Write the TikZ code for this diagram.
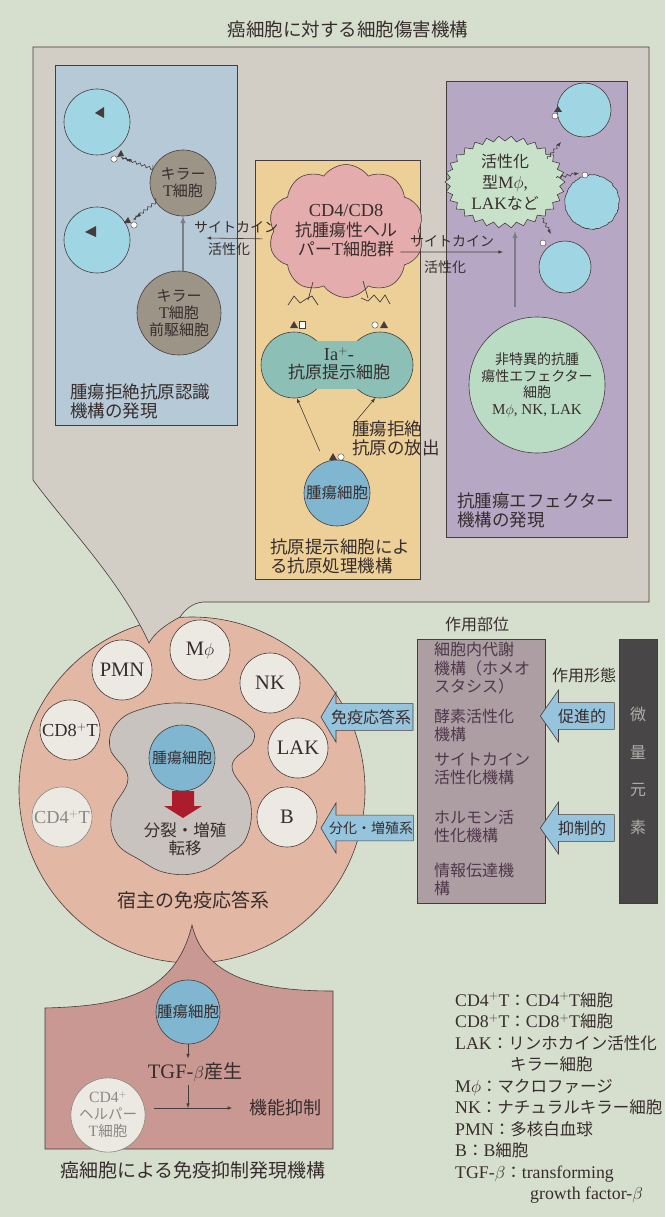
\documentclass[tikz,border=0pt]{standalone}
\usepackage{fontspec}
\setmainfont{Liberation Serif}[Scale=1.08]
\newfontfamily\jpfont{Noto Sans CJK JP}
\usetikzlibrary{shapes.symbols,shapes.arrows,decorations.pathmorphing}

% kana and kanji pick the Japanese face by themselves
\XeTeXinterchartokenstate=1
\newXeTeXintercharclass\jpclass
\count255="3000
\loop
  \XeTeXcharclass\count255=\jpclass
  \ifnum\count255<"9FFF \advance\count255 by 1
\repeat
\count255="FF00
\loop
  \XeTeXcharclass\count255=\jpclass
  \ifnum\count255<"FFEF \advance\count255 by 1
\repeat
\XeTeXinterchartoks 0 \jpclass = {\jpfont}
\XeTeXinterchartoks 4095 \jpclass = {\jpfont}
\XeTeXinterchartoks \jpclass 0 = {\rmfamily}
\XeTeXinterchartoks \jpclass 4095 = {\rmfamily}

\newcommand\fsz[2]{\fontsize{#1}{#2}\selectfont}

\definecolor{bgc}{RGB}{214,222,206}
\definecolor{framec}{RGB}{210,205,197}
\definecolor{bluep}{RGB}{182,201,214}
\definecolor{yellowp}{RGB}{237,208,152}
\definecolor{purplep}{RGB}{182,168,197}
\definecolor{targetc}{RGB}{160,214,228}
\definecolor{killc}{RGB}{156,148,134}
\definecolor{helpc}{RGB}{228,172,172}
\definecolor{apcc}{RGB}{140,191,182}
\definecolor{tumorc}{RGB}{128,182,208}
\definecolor{actc}{RGB}{200,226,202}
\definecolor{effc}{RGB}{186,219,196}
\definecolor{hostc}{RGB}{226,183,163}
\definecolor{immc}{RGB}{236,233,226}
\definecolor{innerc}{RGB}{200,195,190}
\definecolor{redc}{RGB}{172,28,44}
\definecolor{arrowc}{RGB}{150,196,221}
\definecolor{sitec}{RGB}{172,158,163}
\definecolor{darkc}{RGB}{72,70,70}
\definecolor{supc}{RGB}{201,152,146}
\definecolor{inkc}{RGB}{55,45,45}
\definecolor{linec}{RGB}{70,60,60}
\definecolor{palec}{RGB}{125,125,135}
\definecolor{fadec}{RGB}{140,135,130}
\definecolor{sitetext}{RGB}{80,55,75}
\definecolor{elemtext}{RGB}{175,175,168}

\tikzset{
  panel/.style={draw=linec, line width=0.6pt},
  cell/.style={circle, draw=linec, line width=0.6pt, inner sep=0pt, align=center, text=inkc},
  imm/.style={cell, fill=immc, minimum size=60pt, font=\fsz{19}{20}},
  arr/.style={draw=linec, line width=0.6pt, -latex},
  pale/.style={draw=palec, line width=1.3pt, -latex},
  zap/.style={draw=linec, line width=0.6pt, -latex, decorate,
    decoration={snake, amplitude=1.3pt, segment length=5pt, post length=3pt}},
  fat/.style={single arrow, draw=linec, fill=arrowc, line width=0.6pt,
    shape border rotate=180, inner xsep=0pt, inner ysep=5.5pt, text=inkc},
  lbl/.style={inner sep=0pt, align=left, text=inkc, font=\fsz{17.5}{19}},
}

\begin{document}
\begin{tikzpicture}[x=1pt, y=-1pt]
\fill[bgc] (0,0) rectangle (665,1217);
\useasboundingbox (0,0) rectangle (665,1217);

\node[cell, fill=hostc, minimum size=346pt] (host) at (192,790) {};

\filldraw[fill=framec, draw=linec, line width=0.6pt]
  (33,47) -- (649,47) -- (649,602) -- (203,602)
  .. controls (192,603) and (185,610) .. (180,617)
  .. controls (167,624) and (155,632) .. (149,643)
  .. controls (120,580) and (70,530) .. (33,480) -- cycle;
\node[font=\fsz{18.5}{20}, text=inkc] (title) at (348,30) {癌細胞に対する細胞傷害機構};

\filldraw[panel, fill=bluep] (55,65) rectangle (237,425);
\filldraw[panel, fill=yellowp] (255,160) rectangle (420,579);
\filldraw[panel, fill=purplep] (446,81) rectangle (627,537);

% killer T side
\node[cell, fill=targetc, minimum size=66pt] (tgA) at (97,122) {};
\node[cell, fill=targetc, minimum size=66pt] (tgB) at (97,240) {};
\fill[linec] (95,113) -- (104,107) -- (104,118) -- cycle;
\fill[linec] (85,232) -- (96,226) -- (96,237) -- cycle;
\draw[linec, fill=white] (114,159) circle (3.2pt);
\fill[linec] (117,157) -- (121,150) -- (124,156) -- cycle;
\fill[linec] (124,223) -- (128,217) -- (131,223) -- cycle;
\draw[linec, fill=white] (134,225) circle (3.2pt);
\coordinate (mkA) at (118,156);
\coordinate (mkB) at (130,222);

\node[cell, fill=killc, minimum size=66pt, font=\fsz{15}{17}] (kt) at (183,183) {キラー\\T細胞};
\node[cell, fill=killc, minimum size=84pt, font=\fsz{15}{17}] (ktp) at (179,313) {キラー\\T細胞\\前駆細胞};
\draw[pale] (ktp.north -| kt.south) -- (kt.south);
\draw[zap, shorten <=4pt, shorten >=9pt] (kt.155) -- (mkA);
\draw[zap, shorten <=4pt, shorten >=8pt] (kt.215) -- (mkB);
\node[lbl, anchor=north west] (recog) at (70,384) {腫瘍拒絶抗原認識\\機構の発現};

% helper T and antigen presentation
\node[cloud, cloud puffs=10, cloud puff arc=110, aspect=1.25, draw=linec, fill=helpc,
  line width=0.6pt, inner sep=0pt, minimum width=138pt, minimum height=108pt,
  align=center, font=\fsz{17}{19.5}, text=inkc] (help) at (346,231) {CD4/CD8\\抗腫瘍性ヘル\\パーT細胞群};
\draw[linec, line width=0.7pt] (313,282) -- (308,300);
\draw[linec, line width=0.7pt] (288,305) -- (294,296) -- (300,303) -- (306,299) -- (312,296) -- (318,305);
\draw[linec, line width=0.7pt] (363,281) -- (368,298);
\draw[linec, line width=0.7pt] (361,298) -- (368,301) -- (374,295) -- (380,302) -- (385,295) -- (390,304);

\node[cell, fill=apcc, minimum size=66pt] (apcL) at (294,365) {};
\node[cell, fill=apcc, minimum size=66pt] (apcR) at (380,365) {};
\fill[apcc] (316,341) rectangle (358,389);
\node[font=\fsz{17}{18}, text=inkc, align=center] (apcT) at (339,364) {Ia$^{+}$-\\抗原提示細胞};
\fill[linec] (290,328) -- (294,321) -- (298,328) -- cycle;
\draw[linec, fill=white] (299,321) rectangle (305,328);
\draw[linec, fill=white] (375,325) circle (3.2pt);
\fill[linec] (380,328) -- (384,321) -- (388,328) -- cycle;

\node[cell, fill=tumorc, minimum size=66pt, font=\fsz{15.5}{17}] (tu1) at (337,493) {腫瘍細胞};
\fill[linec] (329,460) -- (333,453) -- (337,460) -- cycle;
\draw[linec, fill=white] (341,457) circle (3.2pt);
\draw[arr, shorten <=12pt] (tu1.112) -- (apcL.275);
\node[lbl, anchor=north west] (rel) at (352,421) {腫瘍拒絶\\抗原の放出};
\draw[arr] ([xshift=4pt]rel.north west) -- (apcR.262);
\node[lbl, anchor=north west] (apcLbl) at (270,539) {抗原提示細胞によ\\る抗原処理機構};

\draw[arr, shorten <=11pt] ([yshift=-8pt]help.west) -- (kt.south east |- 191,238);
\node[font=\fsz{14}{15}, text=inkc] (ckA) at (236,227) {サイトカイン};
\node[font=\fsz{14}{15}, text=inkc] (ckB) at (229,249) {活性化};
\draw[arr] ([xshift=-18pt, yshift=-21pt]help.east) -- (503,252);
\node[font=\fsz{14}{15}, text=inkc] (ckC) at (452,241) {サイトカイン};
\node[font=\fsz{14}{15}, text=inkc] (ckD) at (445,267) {活性化};

% effector side: jagged outline of the activated cells
\filldraw[fill=actc, draw=linec, line width=0.6pt]
  plot[domain=0:354, samples=60, variable=\t]
  ({505+(60-5*mod(\t/6,2))*cos(\t)}, {182+(46-5*mod(\t/6,2))*sin(\t)}) -- cycle;
\node[minimum width=108pt, minimum height=80pt, inner sep=0pt, align=center,
  font=\fsz{16}{21}, text=inkc] (act) at (505,182) {活性化\\型M$\phi$,\\LAKなど};
\node[cell, fill=targetc, minimum size=54pt] (pc1) at (584,110) {};
\node[cell, fill=targetc, minimum size=54pt, decorate,
  decoration={random steps, segment length=2pt, amplitude=0.6pt}] (pc2) at (592,202) {};
\node[cell, fill=targetc, minimum size=52pt] (pc3) at (565,267) {};
\fill[linec] (554,112) -- (558,106) -- (562,112) -- cycle;
\draw[linec, fill=white] (555,116) circle (3pt);
\draw[linec, fill=white] (585,175) circle (3pt);
\draw[linec, fill=white] (543,243) circle (3pt);
\coordinate (hitA) at (561,142);
\coordinate (hitB) at (579,173);
\coordinate (hitC) at (551,234);
\draw[zap] ([xshift=-12pt, yshift=-17pt]act.north east) -- (hitA);
\draw[zap] ([xshift=-3pt, yshift=4pt]act.east) -- (hitB);
\draw[zap] ([xshift=-17pt, yshift=4pt]act.south east) -- (hitC);

\node[cell, fill=effc, minimum size=136pt, font=\fsz{14}{16.5}] (gc) at (537,385) {非特異的抗腫\\瘍性エフェクター\\細胞\\M$\phi$, NK, LAK};
\draw[pale] ([xshift=-22pt, yshift=10pt]gc.north) -- ([xshift=10pt, yshift=-9pt]act.south);
\node[lbl, anchor=north west] (effLbl) at (457,493) {抗腫瘍エフェクター\\機構の発現};

% host immune system
\node[imm] (pmn) at (122,670) {PMN};
\node[imm] (mph) at (200,650) {M$\phi$};
\node[imm] (nk) at (270,683) {NK};
\node[imm, font=\fsz{17}{18}] (cd8) at (70,730) {CD8$^{+}$T};
\node[imm] (lak) at (298,748) {LAK};
\node[imm, draw=fadec, text=fadec, font=\fsz{17}{18}] (cd4) at (62,817) {CD4$^{+}$T};
\node[imm] (bc) at (287,817) {B};

\filldraw[draw=linec, fill=innerc, line width=0.6pt] plot[smooth cycle, tension=0.7] coordinates
  {(180,703) (217,709) (248,725) (253,742) (232,766) (250,800) (247,836) (228,855)
   (200,872) (167,873) (140,860) (116,842) (112,812) (128,778) (110,748) (118,722) (145,708)};
\node[cell, fill=tumorc, minimum size=66pt, font=\fsz{15}{17}] (tu2) at (182,758) {腫瘍細胞};
\fill[redc] (172,791) -- (194,791) -- (194,806) -- (202,806) -- (183,818) -- (164,806) -- (172,806) -- cycle;
\node[font=\fsz{16.5}{18.5}, text=inkc, align=center] (mit) at (185,839) {分裂・増殖\\転移};
\node[font=\fsz{19}{20}, text=inkc] (hostLbl) at (193,900) {宿主の免疫応答系};

% trace elements and their sites
\node[draw=linec, fill=sitec, line width=0.6pt, minimum width=128pt, minimum height=264pt, inner sep=0pt] (site) at (481,771) {};
\node[anchor=north west, inner sep=0pt, align=left, font=\fsz{16}{18.5}, text=sitetext] (siteT) at (434,642)
  {細胞内代謝\\機構（ホメオ\\スタシス）\\[11pt]酵素活性化\\機構\\[6pt]サイトカイン\\活性化機構\\[21pt]ホルモン活\\性化機構\\[16pt]情報伝達機\\構};
\node[draw=linec, fill=darkc, line width=0.6pt, minimum width=38pt, minimum height=264pt, inner sep=0pt,
  align=center, font=\fsz{16}{37.7}, text=elemtext] (elem) at (638,771) {微\\量\\元\\素};
\node[font=\fsz{16}{17}, text=inkc] (siteLbl) at (477,624) {作用部位};
\node[font=\fsz{16}{17}, text=inkc] (modeLbl) at (584,675) {作用形態};

\node[fat, minimum height=92pt, minimum width=50pt, single arrow head extend=11.5pt,
  single arrow tip angle=118, font=\fsz{16}{17}] (immAr) at (371,717) {免疫応答系};
\node[fat, minimum height=92pt, minimum width=50pt, single arrow head extend=11.5pt,
  single arrow tip angle=118, font=\fsz{14}{15}] (divAr) at (371,828) {分化・増殖系};
\node[fat, minimum height=74pt, minimum width=52pt, single arrow head extend=12.5pt,
  single arrow tip angle=110, font=\fsz{16}{17}] (promo) at (582,716) {促進的};
\node[fat, minimum height=74pt, minimum width=52pt, single arrow head extend=12.5pt,
  single arrow tip angle=110, font=\fsz{16}{17}] (inhib) at (582,828) {抑制的};

% suppression by the tumour
\filldraw[fill=supc, draw=linec, line width=0.6pt]
  (45,1149) -- (45,1008) .. controls (120,1006) and (175,995) .. (192,925)
  .. controls (205,980) and (265,991) .. (333,991) -- (333,1149) -- cycle;
\node[cell, fill=tumorc, minimum size=64pt, font=\fsz{15.5}{17}] (tu3) at (188,1012) {腫瘍細胞};
\node[font=\fsz{19}{20}, text=inkc] (tgf) at (195,1072) {TGF-$\beta$産生};
\node[cell, fill=immc, draw=fadec, minimum size=66pt, font=\fsz{14.5}{17}, text=fadec] (cd4h) at (108,1115) {CD4$^{+}$\\ヘルパー\\T細胞};
\node[font=\fsz{18}{19}, text=inkc] (supp) at (285,1108) {機能抑制};
\draw[arr] (tu3.south) -- (tgf.north -| tu3.south);
\draw[arr] (tgf.south -| tu3.south) -- (tu3.south |- supp.west);
\draw[arr, shorten <=9pt, shorten >=13pt] (cd4h.east |- supp.west) -- (supp.west);
\node[font=\fsz{19}{20}, text=inkc] (supLbl) at (193,1170) {癌細胞による免疫抑制発現機構};

\node[anchor=north west, inner sep=0pt, align=left, font=\fsz{16.5}{21.5}, text=inkc] (key) at (455,992)
  {CD4$^{+}$T：CD4$^{+}$T細胞\\CD8$^{+}$T：CD8$^{+}$T細胞\\LAK：リンホカイン活性化\\\hspace*{55pt}キラー細胞\\M$\phi$：マクロファージ\\NK：ナチュラルキラー細胞\\PMN：多核白血球\\B：B細胞\\TGF-$\beta$：transforming\\\hspace*{75pt}growth factor-$\beta$};
\end{tikzpicture}
\end{document}
